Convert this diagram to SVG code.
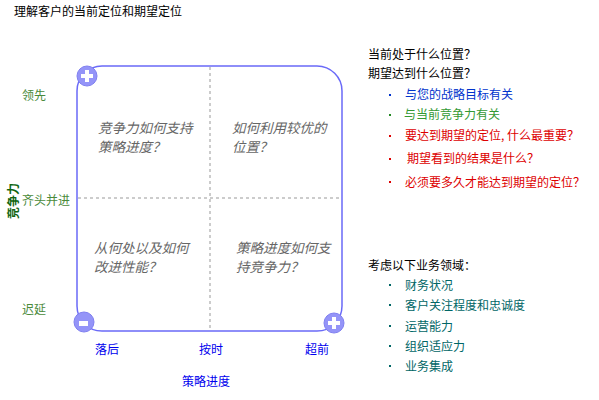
<svg xmlns="http://www.w3.org/2000/svg" width="599" height="400" viewBox="0 0 599 400">
<style>
text{font-family:"Noto Sans CJK SC","Noto Sans",sans-serif;font-size:12px}
.q{fill:#666;font-style:italic;font-size:13.5px}
.g{fill:#4a8a3a}
.b{fill:#0000ee}
.k{fill:#000}
.frame{fill:none;stroke:#6a6af8;stroke-width:1.5}
.dash{stroke:#999;stroke-width:1;stroke-dasharray:3,3;fill:none}
.cb{fill:#9494f8;stroke:#8080f0;stroke-width:1}
.cw{fill:#fff}
.r{fill:#dd0000}
.t{fill:#006666}
</style>
<rect width="599" height="400" fill="#fff"/>
<text class="k" x="14" y="16" font-size="14">理解客户的当前定位和期望定位</text>
<g id="matrix">
<rect class="frame" x="77" y="66" width="265" height="265" rx="25"/>
<line class="dash" x1="210" y1="67" x2="210" y2="330"/>
<line class="dash" x1="78" y1="198" x2="341" y2="198"/>
</g>
<g id="corner-tl"><circle class="cb" cx="87" cy="76" r="10"/><rect class="cw" x="85" y="70" width="4" height="12"/><rect class="cw" x="81" y="74" width="12" height="4"/></g>
<g id="corner-bl"><circle class="cb" cx="84" cy="322" r="10"/><rect class="cw" x="79" y="321" width="9" height="5"/></g>
<g id="corner-br"><circle class="cb" cx="334" cy="323" r="10"/><rect class="cw" x="332" y="317" width="4" height="12"/><rect class="cw" x="328" y="321" width="12" height="4"/></g>
<g id="q1"><text class="q" x="98" y="133">竞争力如何支持</text><text class="q" x="98" y="152">策略进度？</text></g>
<g id="q2"><text class="q" x="232" y="133">如何利用较优的</text><text class="q" x="232" y="152">位置？</text></g>
<g id="q3"><text class="q" x="94" y="253">从何处以及如何</text><text class="q" x="94" y="272">改进性能？</text></g>
<g id="q4"><text class="q" x="236" y="253">策略进度如何支</text><text class="q" x="236" y="272">持竞争力？</text></g>
<g id="yaxis">
<text class="g" x="22" y="100">领先</text>
<text class="g" x="22" y="205">齐头并进</text>
<text class="g" x="22" y="314">迟延</text>
<text x="0" y="0" fill="#116611" font-size="13" font-weight="bold" text-anchor="middle" transform="translate(18,201) rotate(-90)">竞争力</text>
</g>
<g id="xaxis">
<text class="b" x="95" y="354">落后</text>
<text class="b" x="199" y="354">按时</text>
<text class="b" x="305" y="354">超前</text>
<text class="b" x="182" y="386" font-size="14">策略进度</text>
</g>
<g id="questions">
<text class="k" x="368" y="59">当前处于什么位置？</text>
<text class="k" x="368" y="78">期望达到什么位置？</text>
<rect x="389" y="94" width="2" height="2" fill="#0033cc"/><text x="405" y="99" fill="#0033cc">与您的战略目标有关</text>
<rect x="389" y="114" width="2" height="2" fill="#228822"/><text x="404" y="119" fill="#339933">与当前竞争力有关</text>
<rect x="389" y="135" width="2" height="2" fill="#dd0000"/><text class="r" x="405" y="140">要达到期望的定位, 什么最重要？</text>
<rect x="389" y="158" width="2" height="2" fill="#dd0000"/><text class="r" x="407" y="163">期望看到的结果是什么？</text>
<rect x="389" y="181" width="2" height="2" fill="#dd0000"/><text class="r" x="405" y="187">必须要多久才能达到期望的定位？</text>
</g>
<g id="areas">
<text class="k" x="368" y="270">考虑以下业务领域：</text>
<rect x="389" y="284" width="2" height="2" fill="#006666"/><text class="t" x="405" y="290">财务状况</text>
<rect x="389" y="304" width="2" height="2" fill="#006666"/><text class="t" x="405" y="310">客户关注程度和忠诚度</text>
<rect x="389" y="325" width="2" height="2" fill="#006666"/><text class="t" x="405" y="331">运营能力</text>
<rect x="389" y="345" width="2" height="2" fill="#006666"/><text class="t" x="405" y="351">组织适应力</text>
<rect x="389" y="365" width="2" height="2" fill="#006666"/><text class="t" x="405" y="371">业务集成</text>
</g>
</svg>
